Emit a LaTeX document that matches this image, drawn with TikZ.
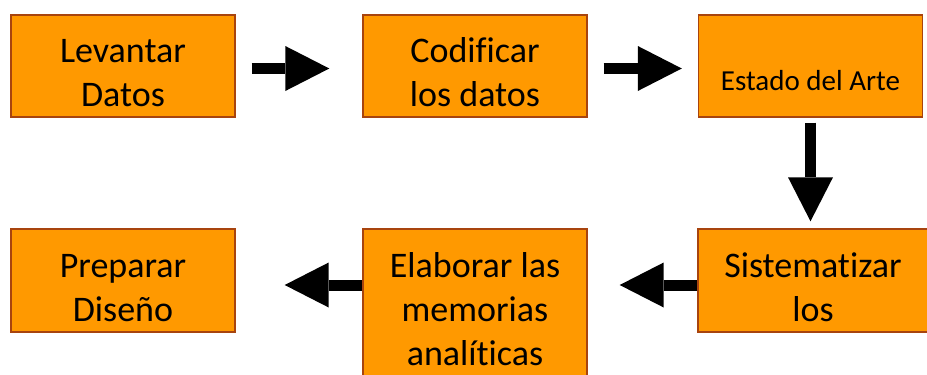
\documentclass[tikz,border=0pt]{standalone}
\usepackage{fontspec}
\setmainfont{Carlito}[Ligatures=CommonOff]
\usepackage{xcolor}
\usepackage{tikz}
\usetikzlibrary{arrows.meta}
\definecolor{stagefill}{RGB}{255,153,0}
\definecolor{stageline}{RGB}{168,68,14}
\newcommand{\firstline}{\rule{0pt}{38pt}}
\tikzstyle{stage} = [rectangle, minimum width=224pt, minimum height=102pt, align=center, draw=stageline, line width=1.4pt, fill=stagefill, inner sep=0pt, font=\fontsize{36}{44}\selectfont]
\tikzstyle{bigarrow} = [line width=11pt, -{Triangle[length=44pt, width=45pt, line width=0pt]}]

\begin{document}
\begin{tikzpicture}[x=1pt, y=-1pt, node distance=352pt]
\useasboundingbox (0,0) rectangle (927,375);
\clip (0,0) rectangle (927,375);
\node (lev) [stage] at (123,66) {\firstline Levantar\\Datos};
\node (cod) [stage, right of=lev] {\firstline Codificar\\los datos};
\node (est) [stage, right of=cod, xshift=-16.5pt, font=\fontsize{29}{35}\selectfont, text height=48pt, text depth=0pt] {Estado del Arte};
\node (sis) [stage, node distance=214.5pt, below of=est, xshift=2.5pt, minimum width=230pt, minimum height=103pt] {\firstline Sistematizar\\los};
\node (ela) [stage, anchor=north, minimum height=147pt] at (sis.north -| cod) {\firstline Elaborar las\\memorias\\analíticas};
\node (prep) [stage, node distance=214.5pt, below of=lev, minimum height=103pt] {\firstline Preparar\\Diseño};
\draw [bigarrow, shorten <=16pt, shorten >=33pt] ([yshift=-2.5pt]lev.east) -- ([yshift=-2.5pt]cod.west);
\draw [bigarrow, shorten <=16pt, shorten >=16pt] ([yshift=-2.5pt]cod.east) -- ([yshift=-2.5pt]est.west);
\draw [bigarrow, shorten <=5pt, shorten >=7pt] (est.south) -- (est.south |- sis.north);
\draw [bigarrow, shorten >=32pt] ([yshift=-4.5pt]sis.west) -- ([yshift=-4.5pt]sis.west -| ela.east);
\draw [bigarrow, shorten >=49pt] ([yshift=-4.5pt]sis.west -| ela.west) -- ([yshift=-4.5pt]prep.east);
\end{tikzpicture}
\end{document}
